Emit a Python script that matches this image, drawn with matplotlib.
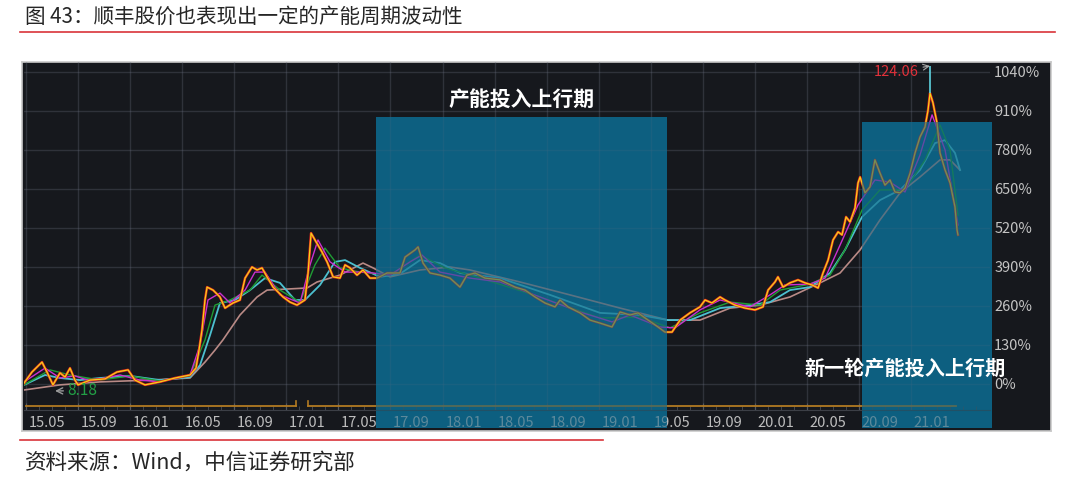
import matplotlib
matplotlib.use('Agg')
import matplotlib.pyplot as plt
from matplotlib.patches import Rectangle
from matplotlib.lines import Line2D
from matplotlib.transforms import ScaledTranslation

plt.rcParams['font.family'] = ['Noto Sans CJK SC', 'DejaVu Sans']

# x: months since 2015-01, y: % change (right axis of the Wind chart)
price_x = [3.85, 4.46, 5.23, 5.61, 6.07, 6.61, 7.0, 7.38, 7.76, 8.0, 8.92, 10.07, 10.99, 11.84,
           12.37, 13.14, 14.29, 15.45, 16.6, 17.06, 17.29, 17.52, 17.75, 17.91, 18.37, 18.9,
           19.29, 19.9, 20.44, 20.83, 21.36, 21.75, 22.13, 22.52, 22.98, 23.75, 24.28, 24.82,
           25.43, 25.67, 25.9, 26.2, 26.74, 27.13, 27.59, 28.12, 28.51, 28.89, 29.43, 29.89,
           30.43, 30.97, 31.74, 32.73, 33.12, 33.89, 34.12, 34.5, 35.04, 35.81, 36.57, 37.34,
           37.88, 38.5, 39.26, 40.42, 41.57, 42.34, 43.11, 43.87, 44.64, 45.03, 45.64, 46.56,
           47.33, 48.1, 49.02, 49.64, 50.4, 51.02, 51.79, 52.56, 53.09, 53.63, 54.25, 55.01,
           55.78, 56.17, 56.7, 57.32, 57.7, 58.47, 59.24, 60.01, 60.62, 61.01, 61.54, 61.77,
           62.16, 62.69, 63.31, 63.85, 64.39, 64.85, 65.23, 65.62, 66.0, 66.39, 66.69, 67.0,
           67.31, 67.69, 67.92, 68.08, 68.46, 68.84, 69.22, 69.61, 69.99, 70.38, 70.76, 71.15,
           71.53, 71.92, 72.3, 72.68, 73.07, 73.3, 73.45, 73.68, 73.99, 74.22, 74.61, 74.99,
           75.37, 75.53, 75.6]
price_y = [3, 40, 73, 40, -3, 37, 23, 53, 13, -3, 13, 17, 40, 47,
           13, -3, 7, 20, 30, 53, 113, 180, 280, 323, 313, 290,
           253, 270, 280, 353, 390, 380, 387, 357, 323, 290, 273, 263,
           280, 370, 503, 480, 440, 407, 357, 353, 397, 387, 363, 380,
           353, 353, 370, 370, 423, 447, 457, 403, 370, 363, 353, 323,
           363, 370, 353, 347, 323, 313, 290, 270, 257, 280, 257, 237,
           213, 203, 190, 240, 230, 237, 213, 190, 173, 173, 213, 237,
           257, 280, 270, 290, 280, 263, 253, 247, 257, 313, 340, 357,
           323, 337, 347, 337, 330, 320, 370, 413, 480, 507, 497, 557,
           540, 587, 670, 690, 637, 657, 747, 703, 663, 680, 640, 637,
           653, 703, 770, 823, 857, 913, 970, 937, 870, 770, 713, 670,
           590, 513, 497]

long_ma_x = [3.85, 6.61, 9.69, 13.53, 16.6, 17.75, 18.52, 19.13, 20.44, 21.75, 22.52, 25.59,
             26.36, 28.12, 29.89, 30.66, 31.97, 34.27, 36.57, 38.11, 41.95, 45.79, 49.64,
             53.32, 55.78, 58.09, 60.39, 62.69, 65.0, 66.54, 68.08, 69.61, 71.15, 72.68,
             74.22, 74.99, 75.76]
long_ma_y = [-20, -3, 7, 13, 20, 73, 113, 147, 230, 290, 313, 320,
             340, 363, 403, 387, 357, 380, 390, 380, 340, 297, 253,
             213, 213, 253, 263, 290, 337, 370, 447, 547, 637, 690,
             747, 747, 713]

mid_ma_x = [3.85, 5.46, 6.61, 8.15, 9.69, 11.99, 14.29, 16.6, 17.37, 18.14, 18.9, 20.06, 21.21,
            22.36, 23.51, 24.67, 25.43, 26.59, 27.74, 28.51, 29.66, 31.2, 32.73, 34.27, 35.81,
            37.34, 40.42, 44.26, 48.1, 51.17, 53.32, 55.01, 57.32, 59.62, 61.16, 62.69, 64.23,
            65.77, 66.92, 68.23, 69.61, 71.15, 72.68, 73.84, 74.61, 75.37, 75.76]
mid_ma_y = [-3, 30, 20, 13, 20, 27, 13, 23, 63, 163, 270, 280, 313,
            353, 337, 280, 280, 330, 407, 413, 387, 357, 367, 413, 403,
            370, 353, 297, 237, 230, 213, 213, 253, 263, 273, 313, 323,
            370, 447, 557, 613, 647, 713, 803, 813, 770, 713]

ma10_x = [3.85, 5.46, 6.61, 7.76, 8.92, 11.22, 12.76, 14.29, 16.6, 17.37, 17.98, 18.9, 19.67,
          20.83, 21.59, 22.36, 23.51, 25.05, 25.82, 26.43, 27.36, 28.51, 30.05, 31.97, 33.5,
          34.42, 35.81, 38.11, 40.42, 43.49, 46.56, 49.02, 50.4, 52.71, 53.86, 55.78, 57.32,
          59.62, 61.16, 62.31, 64.23, 65.39, 66.54, 67.92, 69.22, 70.38, 71.53, 72.68, 73.61,
          74.61, 75.6]
ma10_y = [7, 53, 20, 27, 10, 30, 13, 7, 30, 130, 280, 303, 270,
          313, 373, 373, 297, 270, 397, 480, 407, 373, 373, 363, 407,
          430, 373, 353, 340, 290, 240, 207, 230, 190, 187, 247, 280,
          257, 297, 330, 333, 353, 463, 597, 680, 673, 640, 763, 897,
          780, 530]

ma20_x = [3.85, 5.84, 7.38, 9.69, 11.99, 14.29, 16.6, 17.75, 18.52, 19.67, 21.21, 22.13, 23.51,
          25.05, 26.2, 26.97, 28.12, 29.66, 31.97, 34.27, 36.19, 38.88, 43.49, 48.1, 51.17,
          53.48, 55.78, 58.09, 60.39, 61.93, 64.23, 65.77, 66.92, 68.23, 69.61, 71.53, 73.07,
          74.22, 74.99, 75.6]
ma20_y = [-3, 47, 30, 13, 27, 10, 27, 147, 263, 280, 313, 363, 313,
          273, 397, 453, 387, 373, 363, 430, 387, 353, 290, 220, 223,
          187, 237, 273, 263, 313, 333, 363, 447, 580, 647, 647, 747,
          863, 780, 563]

tick_months = [4, 8, 12, 16, 20, 24, 28, 32, 36, 40, 44, 48, 52, 56, 60, 64, 68, 72]
tick_labels = ['15.05', '15.09', '16.01', '16.05', '16.09', '17.01', '17.05', '17.09', '18.01',
               '18.05', '18.09', '19.01', '19.05', '19.09', '20.01', '20.05', '20.09', '21.01']
y_ticks = [0, 130, 260, 390, 520, 650, 780, 910, 1040]

peak_x, peak_close, peak_high, peak_label = 73.45, 970, 1060, '124.06'
low_x, low_y, low_label = 6.23, -23, '8.18'

period_start = [30.89, 68.23]
period_end = [53.25, 78.2]
period_top = [890, 873]
period_names = ['产能投入上行期', '新一轮产能投入上行期']

event_start = [4.0, 25.67]
event_end = [24.74, 75.45]
event_level, event_cap = -73, -57

W, H = 1080, 488
fig = plt.figure(figsize=(W / 100, H / 100), dpi=100)
fig.patch.set_facecolor('white')

bg = fig.add_axes([22 / W, (H - 431) / H, (1051 - 22) / W, (431 - 62) / H])
bg.set_facecolor('#16181d')
bg.set_xticks([])
bg.set_yticks([])
for s in bg.spines.values():
    s.set_color('#c9c9c9')
    s.set_linewidth(1.2)

ax = fig.add_axes([24 / W, (H - 410) / H, (990 - 24) / W, (410 - 62) / H])
ax.set_facecolor('none')
ax.set_xlim(3.846, 78.06)
ax.set_ylim(-86.7, 1073.3)
for side in ['top', 'left', 'right']:
    ax.spines[side].set_visible(False)
ax.spines['bottom'].set_color('#3c3f46')

ax.set_xticks(tick_months)
ax.set_xticklabels(tick_labels)
ax.set_xticks(range(4, 78), minor=True)
ax.tick_params(axis='x', which='major', length=5, direction='in', color='#555a62',
               labelsize=10.5, labelcolor='#bdbdbd', pad=4)
ax.tick_params(axis='x', which='minor', length=3, direction='in', color='#4a4e56')
for lab in ax.get_xticklabels():
    lab.set_horizontalalignment('left')
    lab.set_transform(lab.get_transform() + ScaledTranslation(2 / 72, 0, fig.dpi_scale_trans))

ax.yaxis.tick_right()
ax.set_yticks(y_ticks)
ax.set_yticklabels([f'{v}%' for v in y_ticks])
ax.tick_params(axis='y', length=0, labelsize=10.5, labelcolor='#c4c4c4', pad=3)
ax.grid(True, which='major', color='#6a7080', alpha=0.3, lw=1)

# shaded periods: solid layer under the lines, tint layer above
ybot = ax.get_ylim()[0] - 0.052 * (ax.get_ylim()[1] - ax.get_ylim()[0])
for x0, x1, top in zip(period_start, period_end, period_top):
    ax.add_patch(Rectangle((x0, ybot), x1 - x0, top - ybot, facecolor='#0d5f80',
                           edgecolor='none', zorder=0.6, clip_on=False))
    ax.add_patch(Rectangle((x0, ybot), x1 - x0, top - ybot, facecolor='#0d5f80',
                           edgecolor='none', alpha=0.55, zorder=5, clip_on=False))

for x0, x1 in zip(event_start, event_end):
    ax.plot([x0, x1], [event_level, event_level], color='#b27a22', lw=1.3, zorder=3)
ax.plot([event_end[0], event_end[0]], [event_level, event_cap], color='#b27a22', lw=1.2, zorder=3)
ax.plot([event_start[1], event_start[1]], [event_level, event_cap], color='#b27a22', lw=1.2, zorder=3)

ax.plot(long_ma_x, long_ma_y, color='#b98a86', lw=1.2, zorder=3)
ax.plot(mid_ma_x, mid_ma_y, color='#4cc0d0', lw=1.3, zorder=3)
ax.plot(ma20_x, ma20_y, color='#1f9c34', lw=1.0, zorder=3)
ax.plot(ma10_x, ma10_y, color='#cc2fd0', lw=1.0, zorder=3)
ax.plot(price_x, price_y, color='#e8261c', lw=1.8, zorder=3.1)
ax.plot(price_x, price_y, color='#f2d21a', lw=0.9, zorder=3.2)
ax.vlines(peak_x, peak_close, peak_high, color='#5fd3e0', lw=1.2, zorder=3.3)

ax.annotate(peak_label, xy=(peak_x, peak_high), xytext=(-8, -4), textcoords='offset points',
            ha='right', va='center', color='#e0313a', fontsize=10.5, zorder=7,
            arrowprops=dict(arrowstyle='->', color='#a8a8a8', lw=0.8, shrinkA=1, shrinkB=0))
ax.annotate(low_label, xy=(low_x, low_y), xytext=(9, 0), textcoords='offset points',
            ha='left', va='center', color='#22a046', fontsize=11, zorder=7,
            arrowprops=dict(arrowstyle='->', color='#9a9a9a', lw=1.0, shrinkA=1, shrinkB=0))

ax.annotate(period_names[0], xy=((period_start[0] + period_end[0]) / 2, period_top[0]),
            xytext=(0, 13), textcoords='offset points', ha='center', va='center',
            color='white', fontsize=15, fontweight='bold', zorder=7, annotation_clip=False)
ax.text(71.5, 53, period_names[1], ha='center', va='center', color='white',
        fontsize=14.5, fontweight='bold', zorder=7)

fig.text(25 / W, 1 - 17 / H, '图 43：顺丰股价也表现出一定的产能周期波动性', ha='left', va='center',
         fontsize=14.8, color='#262626')
fig.add_artist(Line2D([20 / W, 1055 / W], [1 - 32 / H, 1 - 32 / H], color='#d9343a', lw=1.2))
fig.add_artist(Line2D([20 / W, 603 / W], [1 - 440 / H, 1 - 440 / H], color='#d9343a', lw=1.2))
fig.text(25 / W, 1 - 463 / H, '资料来源：Wind，中信证券研究部', ha='left', va='center',
         fontsize=15.5, color='#262626')

fig.savefig('out.png', dpi=100)
